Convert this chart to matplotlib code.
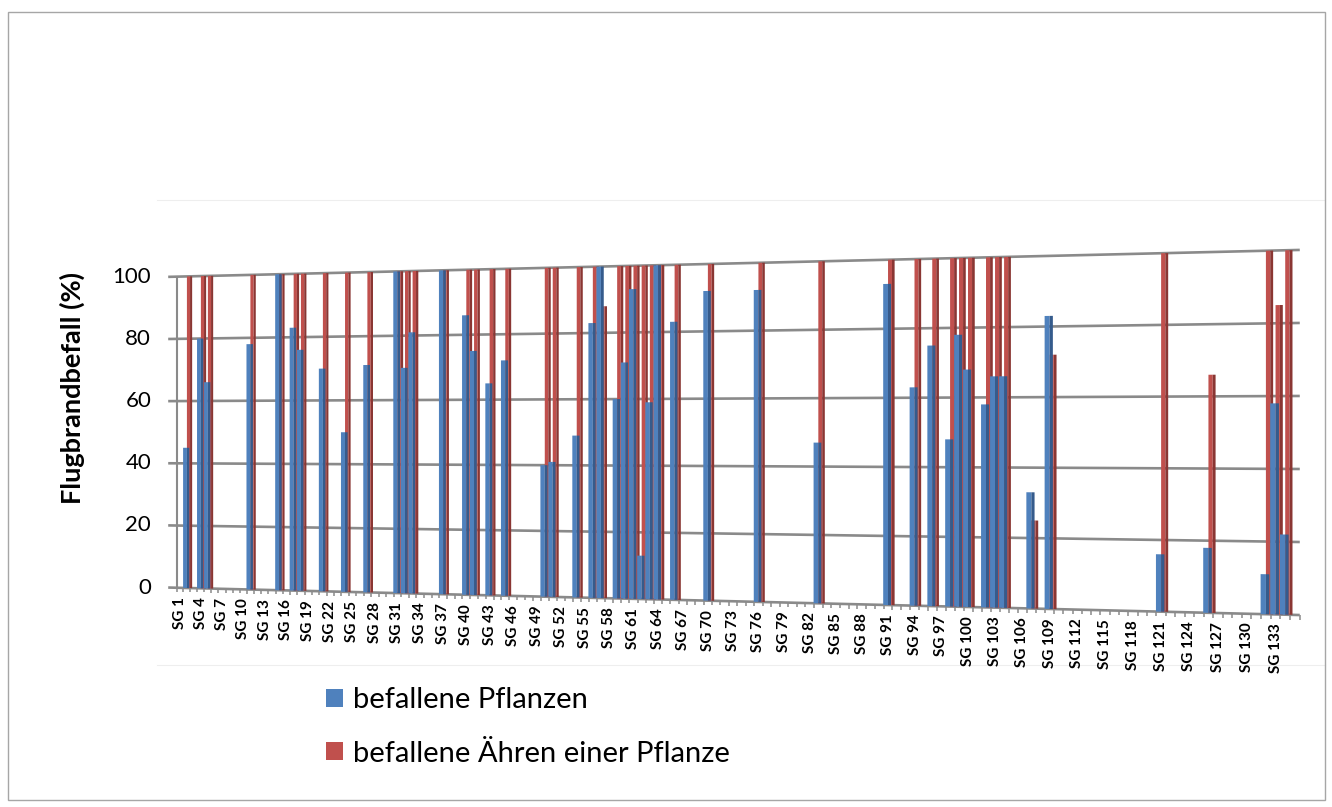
import numpy as np
import matplotlib
matplotlib.use("Agg")
import matplotlib.pyplot as plt
from matplotlib.transforms import Transform, offset_copy
from matplotlib.patches import Patch, Rectangle

plt.rcParams['font.family'] = ['Lato', 'DejaVu Sans']

n_groups = 135
tick_groups = list(range(1, n_groups + 1, 3))
y_ticks = [0, 20, 40, 60, 80, 100]

# groups with data, every other SG is 0
sg_nr = [2, 4, 5, 11, 15, 17, 18, 21, 24, 27,
         31, 32, 33, 37, 40, 41, 43, 45,
         50, 51, 54, 56, 57, 59, 60, 61, 62, 63, 64, 66, 70,
         76, 83, 91, 94, 96, 98, 99, 100, 102, 103, 104,
         107, 109, 121, 126, 132, 133, 134]
pflanzen = [45, 80, 66, 78, 100, 83, 76, 70, 50, 71,
            100, 70, 81, 100, 86, 75, 65, 72,
            40, 41, 49, 83, 100, 60, 71, 93, 13, 59, 100, 83, 92,
            92, 47, 93, 63, 75, 48, 78, 68, 58, 66, 66,
            33, 83, 16, 18, 11, 58, 22]
aehren = [100, 100, 100, 100, 100, 100, 100, 100, 100, 100,
          100, 100, 100, 100, 100, 100, 100, 100,
          100, 100, 100, 100, 88, 100, 100, 100, 100, 100, 100, 100, 100,
          100, 100, 100, 100, 100, 100, 100, 100, 100, 100, 100,
          25, 72, 100, 66, 100, 85, 100]

BLUE, BLUE_SIDE = "#4f81bd", "#355b8c"
RED, RED_SIDE = "#c0504d", "#8a3633"
GRID = "#8a8a8a"

W, H = 1332, 807


class Perspective(Transform):
    """(group position, percent) -> pixel position of the tilted 3d view"""
    input_dims = output_dims = 2

    def transform_non_affine(self, values):
        pts = np.atleast_2d(np.asarray(values, dtype=float))
        u, v = pts[:, 0], pts[:, 1]
        px = 176.5 + 6.93 * u + 0.0103 * u ** 2
        base = 587.7 + 0.0243 * (px - 175)
        top = 276.7 - 0.0238 * (px - 175)
        py = base + (top - base) * v / 100.0
        return np.column_stack([px, py]).reshape(np.shape(values))


fig = plt.figure(figsize=(W / 100, H / 100), dpi=100)
ax = fig.add_axes([0, 0, 1, 1])
ax.set_xlim(0, W)
ax.set_ylim(H, 0)
ax.axis("off")

tr = Perspective() + ax.transData

# plot area frame (very faint)
ax.plot([157, 1325], [200, 200], color="#eeeeee", lw=0.8, zorder=0)
ax.plot([157, 1325], [665, 665], color="#eeeeee", lw=0.8, zorder=0)

# back wall grid + y ticks
for v in y_ticks:
    ax.plot([-1.2, n_groups], [v, v], transform=tr, color=GRID, lw=1.9,
            solid_capstyle="butt", zorder=1)
    ax.text(-1.2, v, str(v), transform=offset_copy(tr, fig, x=-17, units="dots"),
            ha="right", va="center", fontsize=16)
ax.plot([0, 0], [0, 100], transform=tr, color=GRID, lw=1.5, zorder=1)

# category ticks and labels
ax.vlines(np.arange(0, n_groups + 1), -1.3, 0, transform=tr, color=GRID, lw=1.1, zorder=1)
for k in tick_groups:
    ax.text(k - 0.5, 0, f"SG {k}", transform=offset_copy(tr, fig, y=-9, units="dots"),
            rotation=90, ha="center", va="top", fontsize=11, fontweight="bold")

sg = np.array(sg_nr, dtype=float)

# rear series first (red), front series (blue) on top
ax.bar(sg - 0.5, aehren, width=0.45, align="edge", color=RED, lw=0, transform=tr, zorder=2)
ax.bar(sg - 0.05, aehren, width=0.3, align="edge", color=RED_SIDE, lw=0, transform=tr, zorder=2)
ax.bar(sg - 1.05, pflanzen, width=0.55, align="edge", color=BLUE, lw=0, transform=tr, zorder=3)
ax.bar(sg - 0.5, pflanzen, width=0.35, align="edge", color=BLUE_SIDE, lw=0, transform=tr, zorder=3)

ax.set_xlim(0, W)
ax.set_ylim(H, 0)

fig.text(72 / W, 1 - 388 / H, "Flugbrandbefall (%)", rotation=90, ha="center", va="center",
         fontsize=19.5, fontweight="bold")

fig.legend(handles=[Patch(facecolor=BLUE), Patch(facecolor=RED)],
           labels=["befallene Pflanzen", "befallene Ähren einer Pflanze"],
           loc="upper left", bbox_to_anchor=(326 / W, 1 - 687 / H), frameon=False,
           fontsize=21, handlelength=0.58, handleheight=0.58, handletextpad=0.35,
           labelspacing=0.95, borderpad=0, borderaxespad=0)

fig.add_artist(Rectangle((8 / W, 1 - 800 / H), 1317 / W, 788 / H, transform=fig.transFigure,
                         fill=False, edgecolor="#a6a6a6", lw=1))

fig.savefig("out.png", dpi=100)
